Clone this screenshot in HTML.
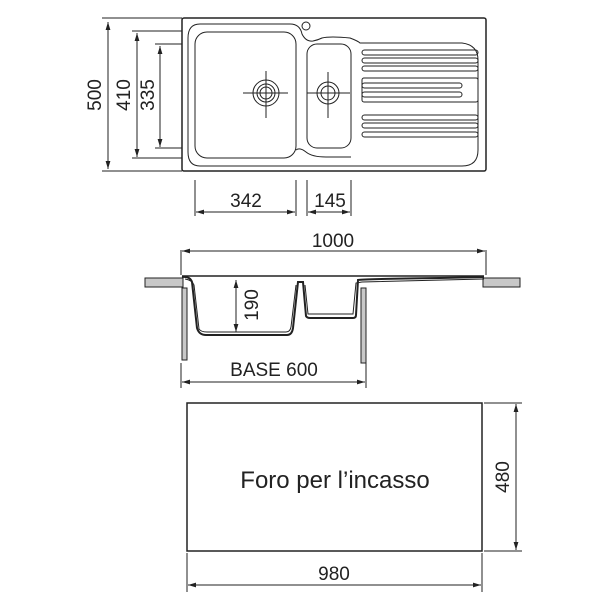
<!DOCTYPE html>
<html><head><style>body{margin:0;background:#fff}</style></head><body>
<svg width="600" height="600" viewBox="0 0 600 600" xmlns="http://www.w3.org/2000/svg" font-family="Liberation Sans, sans-serif" fill="none" stroke="#222">
<defs>
<marker id="a" viewBox="0 0 10 6" refX="10" refY="3" markerWidth="8" markerHeight="5" orient="auto-start-reverse"><path d="M0,0L10,3L0,6z" fill="#222" stroke="none"/></marker>
</defs>
<g stroke-width="1">
<rect x="182" y="18" width="304" height="153" rx="2" stroke-width="1.5"/>
<path d="M200,24 H290 Q300,24 302,34 Q306,42 313,41 Q318,40 322,38 Q330,36 350,38 Q358,41 360,43 H462 Q478,45 478,60 V150 Q478,166 462,166 H200 Q188,166 188,152 V38 Q188,24 200,24 Z"/>
<rect x="195" y="32" width="101" height="126" rx="12"/>
<rect x="307" y="44" width="44" height="104" rx="10"/>
<path d="M296,150 Q300,147 306,152 Q312,157 326,157 H351"/>
<circle cx="306" cy="26" r="4"/>
<g stroke-width="1">
<rect x="362" y="50" width="116" height="5" rx="2.5"/>
<rect x="362" y="58" width="116" height="5" rx="2.5"/>
<rect x="362" y="66" width="116" height="5" rx="2.5"/>
<rect x="362" y="78" width="116" height="24" rx="2"/>
<rect x="362" y="83" width="100" height="5" rx="2.5"/>
<rect x="362" y="92" width="100" height="5" rx="2.5"/>
<rect x="362" y="115" width="116" height="5" rx="2.5"/>
<rect x="362" y="123" width="116" height="5" rx="2.5"/>
<rect x="362" y="132" width="116" height="5" rx="2.5"/>
</g>
<circle cx="266" cy="93" r="13"/><circle cx="266" cy="93" r="9"/><circle cx="266" cy="93" r="6"/>
<path d="M243,93H288M266,71V118"/>
<circle cx="328" cy="93" r="11"/><circle cx="328" cy="93" r="7"/>
<path d="M307,93H350M328,72V118"/>
<path d="M108,22V169" marker-start="url(#a)" marker-end="url(#a)"/>
<path d="M102,18H182M102,171H182"/>
<path d="M137,33V157" marker-start="url(#a)" marker-end="url(#a)"/>
<path d="M132,31H182M132,158H182"/>
<path d="M160,46V147" marker-start="url(#a)" marker-end="url(#a)"/>
<path d="M155,44H182M155,148H182"/>
<path d="M195,180V216M296,180V216M307,180V216M351,180V216"/>
<path d="M196,212H295" marker-start="url(#a)" marker-end="url(#a)"/>
<path d="M308,212H350" marker-start="url(#a)" marker-end="url(#a)"/>
<path d="M181,250V275M486,250V275"/>
<path d="M182,251H485" marker-start="url(#a)" marker-end="url(#a)"/>
<rect x="145" y="278" width="38" height="9" fill="#c8c8c8"/>
<rect x="483" y="278" width="37" height="9" fill="#c8c8c8"/>
<rect x="182" y="288" width="5" height="72" fill="#c8c8c8"/>
<rect x="361" y="288" width="5" height="75" fill="#c8c8c8"/>
<path d="M182,276H484" stroke-width="1.5"/>
<path d="M182,277 Q190,276 192,282 L197,328 Q199,335 206,335 H287 Q292,335 293,328 L298,282 H303 L306,316 Q307,318 310,318 H353 Q356,318 356,315 L358,280 Q364,279 440,278 L484,277" stroke-width="2"/>
<path d="M185,279 Q192,280 194,285 L199,329 Q201,332 207,332 H286 Q290,332 291,327 L296,285 M305,285 L308,314 H353 L356,283 L362,282 L484,279" stroke-width="1"/>
<path d="M236,280V332" marker-start="url(#a)" marker-end="url(#a)"/>
<path d="M181,363V388M366,363V388"/>
<path d="M182,382H365" marker-start="url(#a)" marker-end="url(#a)"/>
<rect x="187" y="403" width="295" height="148" stroke-width="1.5"/>
<path d="M484,403H522M484,551H522"/>
<path d="M516,404V550" marker-start="url(#a)" marker-end="url(#a)"/>
<path d="M187,553V592M482,553V592"/>
<path d="M188,585H481" marker-start="url(#a)" marker-end="url(#a)"/>
</g>
<g fill="#222" stroke="none" font-size="19">
<text transform="translate(101,95) rotate(-90)" text-anchor="middle">500</text>
<text transform="translate(130,95) rotate(-90)" text-anchor="middle">410</text>
<text transform="translate(154,95) rotate(-90)" text-anchor="middle">335</text>
<text x="246" y="207" text-anchor="middle">342</text>
<text x="330" y="207" text-anchor="middle">145</text>
<text x="333" y="247" text-anchor="middle">1000</text>
<text transform="translate(258,305) rotate(-90)" text-anchor="middle">190</text>
<text x="274" y="376" text-anchor="middle">BASE 600</text>
<text x="335" y="488" text-anchor="middle" font-size="24">Foro per l’incasso</text>
<text transform="translate(509,477) rotate(-90)" text-anchor="middle">480</text>
<text x="334" y="580" text-anchor="middle">980</text>
</g>
</svg>
</body></html>
